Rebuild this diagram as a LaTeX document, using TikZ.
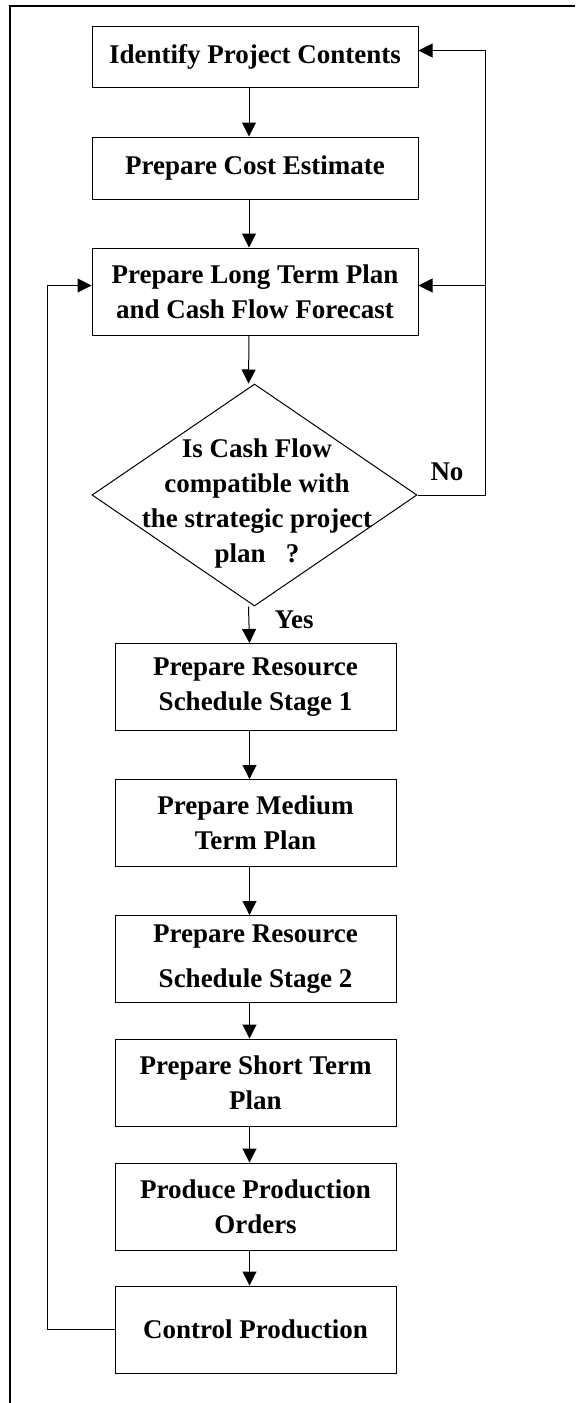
\documentclass[tikz,border=0pt]{standalone}
\usepackage{fontspec}
\setmainfont{Liberation Serif}
\usetikzlibrary{arrows.meta,shapes.geometric,positioning}
\tikzstyle{stepbox} = [rectangle, draw, line width=0.5pt, align=center, font=\fontsize{13.5}{17.5}\selectfont\bfseries, inner sep=0pt]
\tikzstyle{bigbox} = [stepbox, minimum width=163pt]
\tikzstyle{smallbox} = [stepbox, minimum width=140.5pt, minimum height=43.5pt]
\tikzstyle{decision} = [diamond, draw, line width=0.5pt, minimum width=162.5pt, minimum height=111pt, inner sep=0pt]
\tikzstyle{arrow} = [line width=0.5pt, -{Triangle[length=7pt,width=7pt]}]
\tikzstyle{answer} = [font=\fontsize{13.5}{17.5}\selectfont\bfseries, inner sep=0pt, align=center]

\begin{document}
\begin{tikzpicture}[x=0.5pt, y=-0.5pt]
\useasboundingbox (0,0) rectangle (575,1403);
% Frame
\draw[line width=1pt] (575,6) -- (10,6) -- (10,1403);

% Long term part
\node (contents) [bigbox, minimum height=30.5pt] at (255,56.5) {Identify Project Contents};
\node (cost) [bigbox, minimum height=31pt] at (255,168) {Prepare Cost Estimate};
\node (longterm) [bigbox, minimum height=43.5pt] at (255,291.5) {Prepare Long Term Plan\\and Cash Flow Forecast};
\node (check) [decision] at (254.5,495) {};
\node (checktext) [answer] at (257,503) {Is Cash Flow\\compatible with\\the strategic project\\plan~~~?};

% Medium and short term part
\node (stage1) [smallbox] at (255.5,687) {Prepare Resource\\Schedule Stage 1};
\node (medium) [smallbox] at (255.5,823) {Prepare Medium\\Term Plan};
\node (stage2) [smallbox] at (255.5,959) {Prepare Resource\\[5pt]Schedule Stage 2};
\node (shortterm) [smallbox] at (255.5,1082.5) {Prepare Short Term\\Plan};
\node (orders) [smallbox] at (255.5,1206.5) {Produce Production\\Orders};
\node (control) [smallbox] at (255.5,1329.5) {Control Production};

% Answers
\node (yes) [answer] at (294,620) {Yes};
\node (no) [answer] at (447,472) {No};

% Arrows down
\draw[arrow] ([xshift=-3pt]contents.south) -- ([xshift=-3pt]cost.north);
\draw[arrow] ([xshift=-3pt]cost.south) -- ([xshift=-3pt]longterm.north);
\draw[arrow] ([xshift=-3pt]longterm.south) -- ([xshift=-3pt]check.north);
\draw[arrow] ([xshift=-3pt]check.south) -- ([xshift=-3pt]stage1.north);
\draw[arrow] ([xshift=-3pt]stage1.south) -- ([xshift=-3pt]medium.north);
\draw[arrow] ([xshift=-3pt]medium.south) -- ([xshift=-3pt]stage2.north);
\draw[arrow] ([xshift=-3pt]stage2.south) -- ([xshift=-3pt]shortterm.north);
\draw[arrow] ([xshift=-3pt]shortterm.south) -- ([xshift=-3pt]orders.north);
\draw[arrow] ([xshift=-3pt]orders.south) -- ([xshift=-3pt]control.north);

% Loops back
\coordinate (noside) at (485,495);
\coordinate (backside) at (47,1323);
\draw[arrow] (check.east) -- (noside) |- ([yshift=3pt]contents.east);
\draw[arrow] ([yshift=3pt]longterm.east -| noside) -- ([yshift=3pt]longterm.east);
\draw[arrow] (control.west) -- (control.west -| backside) -- ([yshift=3pt]longterm.west -| backside) -- ([yshift=3pt]longterm.west);
\end{tikzpicture}
\end{document}
